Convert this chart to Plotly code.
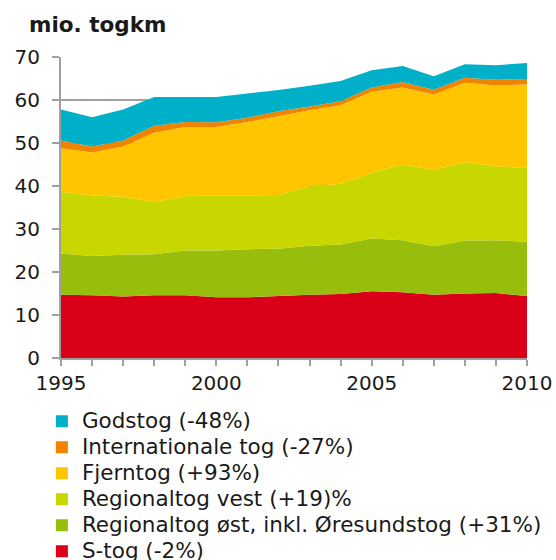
import plotly.graph_objects as go

years = list(range(1995, 2011))

# Million train-km per year, by train category
s_tog = [14.7, 14.6, 14.3, 14.6, 14.6, 14.1, 14.1, 14.4, 14.7, 14.9, 15.5, 15.3, 14.7, 15.0, 15.1, 14.4]
regional_oest = [9.6, 9.1, 9.7, 9.5, 10.4, 10.9, 11.2, 11.0, 11.4, 11.5, 12.3, 12.1, 11.3, 12.3, 12.3, 12.6]
regional_vest = [14.3, 14.1, 13.5, 12.2, 12.7, 12.8, 12.5, 12.5, 13.8, 14.1, 15.2, 17.6, 17.7, 18.3, 17.2, 17.2]
fjerntog = [10.2, 10.0, 11.7, 16.1, 16.0, 15.9, 17.1, 18.3, 17.7, 18.3, 18.9, 17.9, 17.6, 18.4, 18.8, 19.4]
internationale = [1.8, 1.4, 1.4, 1.6, 1.2, 1.1, 1.0, 1.2, 0.9, 0.9, 1.0, 1.3, 1.1, 1.2, 1.3, 1.3]
godstog = [7.2, 6.8, 7.2, 6.7, 5.8, 5.9, 5.6, 4.9, 4.8, 4.7, 4.0, 3.7, 3.1, 3.1, 3.4, 3.7]

labels = [
    "S-tog (-2%)",
    "Regionaltog øst, inkl. Øresundstog (+31%)",
    "Regionaltog vest (+19)%",
    "Fjerntog (+93%)",
    "Internationale tog (-27%)",
    "Godstog (-48%)",
]
series = [s_tog, regional_oest, regional_vest, fjerntog, internationale, godstog]
colors = ["#DA0018", "#97BE0D", "#C8D700", "#FFC600", "#F08300", "#00B0C8"]

fig = go.Figure()

# Stacked areas, bottom to top
for name, vals, col in zip(labels, series, colors):
    fig.add_trace(go.Scatter(
        x=years, y=vals, name=name, stackgroup="one", mode="none",
        fillcolor=col, showlegend=False, hoverinfo="x+y+name",
    ))

# Legend entries with square swatches, top series first
for name, col in zip(reversed(labels), reversed(colors)):
    fig.add_trace(go.Scatter(
        x=[None], y=[None], mode="markers", name=f'<span style="font-size:21.5px">{name}</span>',
        marker=dict(symbol="square", size=12, color=col), showlegend=True,
    ))

axis_col = "#A0A0A0"
fig.update_layout(
    width=556, height=560,
    margin=dict(l=61, r=28.5, t=57, b=202, autoexpand=False),
    paper_bgcolor="white", plot_bgcolor="white",
    font=dict(family="DejaVu Sans, Verdana, sans-serif", size=20, color="#1a1a1a"),
    title=dict(
        text="<b>mio. togkm</b>", font=dict(size=21.5, color="#1a1a1a"),
        xref="container", yref="container", x=29 / 556, xanchor="left",
        y=1 - 24 / 560, yanchor="middle",
    ),
    xaxis=dict(
        range=[1995, 2010], tickvals=[1995, 2000, 2005, 2010],
        showgrid=False, zeroline=False,
        showline=True, linecolor=axis_col, linewidth=2,
        ticks="outside", ticklen=6, tickwidth=2, tickcolor=axis_col,
        minor=dict(dtick=1, tick0=1995, ticks="outside", ticklen=6, tickwidth=2, tickcolor=axis_col),
        tickfont=dict(size=20),
    ),
    yaxis=dict(
        range=[0, 70], dtick=10,
        showgrid=True, gridcolor=axis_col, gridwidth=2, zeroline=False,
        showline=True, linecolor=axis_col, linewidth=2,
        ticks="outside", ticklen=7, tickwidth=2, tickcolor=axis_col,
        ticklabelstandoff=8,
        tickfont=dict(size=20),
    ),
    legend=dict(
        x=-0.041, xanchor="left", y=-0.15, yanchor="top",
        font=dict(size=17.7), tracegroupgap=0, traceorder="normal",
        bgcolor="rgba(0,0,0,0)", borderwidth=0,
    ),
    showlegend=True,
)

fig.write_html("out.html")
